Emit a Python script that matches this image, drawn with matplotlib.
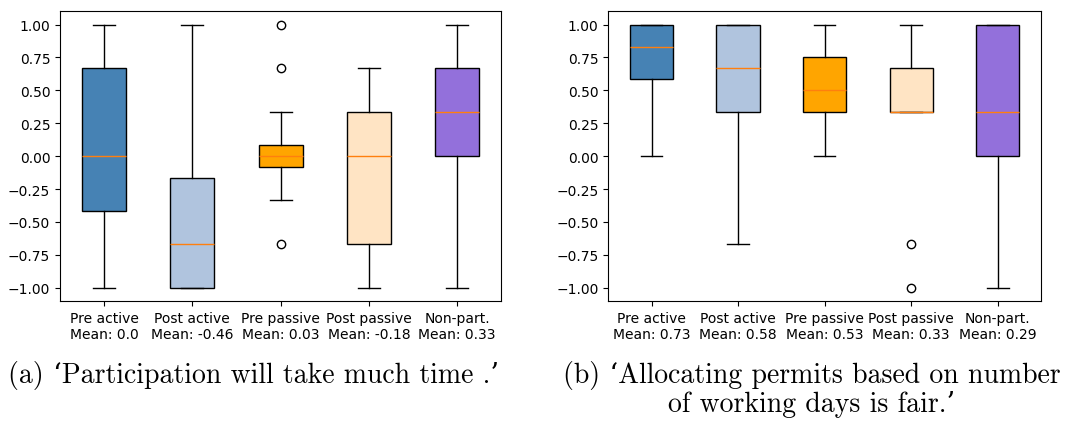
import matplotlib
matplotlib.use('Agg')
import matplotlib.pyplot as plt

groups = ['Pre active', 'Post active', 'Pre passive', 'Post passive', 'Non-part.']
colors = ['steelblue', 'lightsteelblue', 'orange', 'bisque', 'mediumpurple']

# (a) participation will take much time
means_a = ['0.0', '-0.46', '0.03', '-0.18', '0.33']
whislo_a = [-1, -1, -0.333, -1, -1]
q1_a = [-0.417, -1, -0.083, -0.667, 0]
med_a = [0, -0.667, 0, 0, 0.333]
q3_a = [0.667, -0.167, 0.083, 0.333, 0.667]
whishi_a = [1, 1, 0.333, 0.667, 1]
fliers_a = [[], [], [1, 0.667, -0.667], [], []]

# (b) allocating permits based on working days is fair
means_b = ['0.73', '0.58', '0.53', '0.33', '0.29']
whislo_b = [0, -0.667, 0, 0.333, -1]
q1_b = [0.583, 0.333, 0.333, 0.333, 0]
med_b = [0.833, 0.667, 0.5, 0.333, 0.333]
q3_b = [1, 1, 0.75, 0.667, 1]
whishi_b = [1, 1, 1, 1, 1]
fliers_b = [[], [], [], [-0.667, -1], []]


def make_stats(lo, q1, med, q3, hi, fl):
    stats = []
    for i in range(len(lo)):
        stats.append({'whislo': lo[i], 'q1': q1[i], 'med': med[i],
                      'q3': q3[i], 'whishi': hi[i], 'fliers': fl[i]})
    return stats


def draw(ax, stats, means):
    bp = ax.bxp(stats, showfliers=True, patch_artist=True, widths=0.5)
    for patch, c in zip(bp['boxes'], colors):
        patch.set_facecolor(c)
    ax.set_xticks(range(1, 6))
    ax.set_xticklabels([g + '\nMean: ' + m for g, m in zip(groups, means)])
    ax.set_ylim(-1.1, 1.1)
    ax.set_yticks([-1, -0.75, -0.5, -0.25, 0, 0.25, 0.5, 0.75, 1])


fig = plt.figure(figsize=(10.71, 4.27), dpi=100)
ax1 = fig.add_axes([0.056, 0.293, 0.412, 0.678])
ax2 = fig.add_axes([0.568, 0.293, 0.404, 0.678])

draw(ax1, make_stats(whislo_a, q1_a, med_a, q3_a, whishi_a, fliers_a), means_a)
draw(ax2, make_stats(whislo_b, q1_b, med_b, q3_b, whishi_b, fliers_b), means_b)

cap_font = ['cmr10', 'DejaVu Serif']
fig.text(0.237, 0.12, '(a) \u2018Participation will take much time .\u2019',
         ha='center', va='center', fontsize=20, family=cap_font)
fig.text(0.758, 0.12, '(b) \u2018Allocating permits based on number',
         ha='center', va='center', fontsize=20, family=cap_font)
fig.text(0.758, 0.052, 'of working days is fair.\u2019',
         ha='center', va='center', fontsize=20, family=cap_font)

fig.savefig('out.png', dpi=100)
